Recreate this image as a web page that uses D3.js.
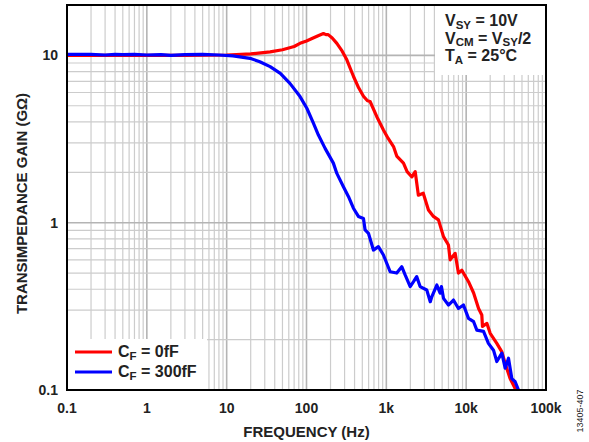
<!DOCTYPE html>
<html><head><meta charset="utf-8">
<script src="https://cdn.jsdelivr.net/npm/d3@7"></script>
<style>
body{margin:0;background:#fff;}
svg{display:block;font-family:"Liberation Sans",Arial,sans-serif;}
</style></head>
<body>
<svg id="chart" width="589" height="442"></svg>
<script>
// ---- Data ----
const redFreq = [0.1,0.3,1,3,10,20,35,50,70,83,100,121,140,163,175,187,210,240,280,320,387,450,517,580,626,760,920,1050,1230,1350,1640,1820,2090,2300,2520,2900,3370,3890,4500,5200,6000,6300,7280,8000,8830,10700,12400,14300,15700,16000,18200,20000,24200,28000,30800,35500,41100,43000];
const redGain = [10.0,10.0,10.0,10.0,10.05,10.2,10.5,10.8,11.3,11.8,12.2,12.7,13.1,13.5,13.3,13.3,12.7,11.8,10.6,9.4,7.5,6.4,5.7,5.35,5.3,4.3,3.58,3.2,2.85,2.5,2.27,2.02,1.88,2.02,1.46,1.5,1.19,1.09,1.04,0.825,0.736,0.6,0.656,0.5,0.52,0.444,0.38,0.307,0.281,0.24,0.25,0.218,0.19,0.169,0.144,0.117,0.102,0.098];
const blueFreq = [0.1,0.2,0.3,0.4,0.5,0.7,1,1.5,2,3,5,8,12,19.6,26,35,47,62,83,101,122,141,171,217,240,290,336,387,447,517,542,597,689,795,920,1117,1350,1560,1720,1990,2190,2400,2650,3210,3550,3720,4290,4720,4900,5200,6000,6930,8000,9250,10700,12400,13600,16500,19000,22000,24200,28000,30800,33900,37300,41100,45300];
const blueGain = [10.15,10.15,10.05,10.15,10.1,10.15,10.05,10.1,10.0,10.1,10.15,10.05,9.93,9.6,9.16,8.56,7.8,6.8,5.67,4.83,3.93,3.34,2.78,2.27,1.97,1.64,1.43,1.22,1.09,1.06,0.905,0.864,0.686,0.719,0.641,0.509,0.5,0.546,0.487,0.415,0.444,0.476,0.415,0.396,0.337,0.362,0.424,0.379,0.415,0.353,0.322,0.345,0.307,0.322,0.268,0.256,0.228,0.224,0.19,0.173,0.148,0.166,0.135,0.155,0.117,0.112,0.1];
const xTickVals = [0.1,1,10,100,1000,10000,100000];
const xTickLabels = ["0.1","1","10","100","1k","10k","100k"];
const yTickVals = [0.1,1,10];
const yTickLabels = ["0.1","1","10"];
const seriesNames = ["0fF","300fF"];

// ---- Layout ----
const svg = d3.select("#chart");
const L = 67, R = 546, T = 5, B = 390;
const x = d3.scaleLog().domain([0.1,100000]).range([L,R]);
const y = d3.scaleLog().domain([0.1,20]).range([B,T]);

// grid
const xGrid = [], yGrid = [];
for (let e=-1;e<5;e++) for (let k=1;k<10;k++) xGrid.push(k*Math.pow(10,e));
for (let e=-1;e<2;e++) for (let k=1;k<10;k++){ const v=k*Math.pow(10,e); if (v<=20) yGrid.push(v); }
yGrid.push(20);
const g = svg.append("g");
g.selectAll(".xg").data(xGrid).enter().append("line")
  .attr("x1",d=>x(d)).attr("x2",d=>x(d)).attr("y1",T).attr("y2",B)
  .attr("stroke",d=>xTickVals.includes(d)?"#b4b4b4":"#cccccc")
  .attr("stroke-width",d=>xTickVals.includes(d)?1.6:1.2);
g.selectAll(".yg").data(yGrid).enter().append("line")
  .attr("y1",d=>y(d)).attr("y2",d=>y(d)).attr("x1",L).attr("x2",R)
  .attr("stroke",d=>yTickVals.includes(d)?"#b4b4b4":"#cccccc")
  .attr("stroke-width",d=>yTickVals.includes(d)?1.6:1.2);

// white boxes
svg.append("rect").attr("x",L).attr("y",339).attr("width",140).attr("height",B-339).attr("fill","#fff");
svg.append("rect").attr("x",435).attr("y",T).attr("width",R-435).attr("height",70).attr("fill","#fff");

// clip
svg.append("clipPath").attr("id","clip").append("rect").attr("x",L).attr("y",T).attr("width",R-L).attr("height",B-T);

const line = d3.line().x(d=>x(d[0])).y(d=>y(d[1]));
const redData = redFreq.map((f,i)=>[f,redGain[i]]);
const blueData = blueFreq.map((f,i)=>[f,blueGain[i]]);
const cg = svg.append("g").attr("clip-path","url(#clip)");
cg.append("path").datum(redData).attr("d",line).attr("fill","none").attr("stroke","#ff0000").attr("stroke-width",3.2).attr("stroke-linejoin","round");
cg.append("path").datum(blueData).attr("d",line).attr("fill","none").attr("stroke","#0000ff").attr("stroke-width",3.2).attr("stroke-linejoin","round");

// frame
svg.append("rect").attr("x",L).attr("y",T).attr("width",R-L).attr("height",B-T).attr("fill","none").attr("stroke","#000").attr("stroke-width",2);

// axes labels
svg.selectAll(".xt").data(xTickVals).enter().append("text")
  .attr("x",d=>x(d)).attr("y",413).attr("text-anchor","middle")
  .attr("font-size",14).attr("font-weight","bold").attr("fill","#222")
  .text((d,i)=>xTickLabels[i]);
svg.selectAll(".yt").data(yTickVals).enter().append("text")
  .attr("x",58).attr("y",d=>y(d)+5).attr("text-anchor","end")
  .attr("font-size",14).attr("font-weight","bold").attr("fill","#222")
  .text((d,i)=>yTickLabels[i]);

svg.append("text").attr("x",(L+R)/2).attr("y",437).attr("text-anchor","middle")
  .attr("font-size",15).attr("font-weight","bold").attr("fill","#222").text("FREQUENCY (Hz)");
svg.append("text").attr("transform","translate(27,"+((T+B)/2+6)+") rotate(-90)").attr("text-anchor","middle")
  .attr("font-size",15).attr("font-weight","bold").attr("fill","#222").text("TRANSIMPEDANCE GAIN (GΩ)");

svg.append("text").attr("transform","translate(583,411) rotate(-90)").attr("text-anchor","middle")
  .attr("font-size",9).attr("fill","#222").text("13405-407");

// annotation
function sub(t, parts, size){
  parts.forEach(p=>{
    const ts = t.append("tspan").text(p[0]);
    if (p[1]) ts.attr("font-size",size*0.72).attr("dy",2.5);
    else if (p[2]) ts.attr("dy",-2.5);
  });
}
const ann = [
  [["V"],["SY",1],[" = 10V",0,1]],
  [["V"],["CM",1],[" = V",0,1],["SY",1],["/2",0,1]],
  [["T"],["A",1],[" = 25°C",0,1]]
];
ann.forEach((parts,i)=>{
  const t = svg.append("text").attr("x",445).attr("y",26+i*17.5).attr("font-size",16).attr("font-weight","bold").attr("fill","#222");
  sub(t,parts,16);
});

// legend
const legColors = ["#ff0000","#0000ff"];
seriesNames.forEach((n,i)=>{
  const yy = 352 + i*20;
  svg.append("line").attr("x1",75).attr("x2",112).attr("y1",yy).attr("y2",yy).attr("stroke",legColors[i]).attr("stroke-width",3.2);
  const t = svg.append("text").attr("x",118).attr("y",yy+5).attr("font-size",16).attr("font-weight","bold").attr("fill","#222");
  sub(t,[["C"],["F",1],[" = "+n,0,1]],16);
});
</script>
</body></html>
